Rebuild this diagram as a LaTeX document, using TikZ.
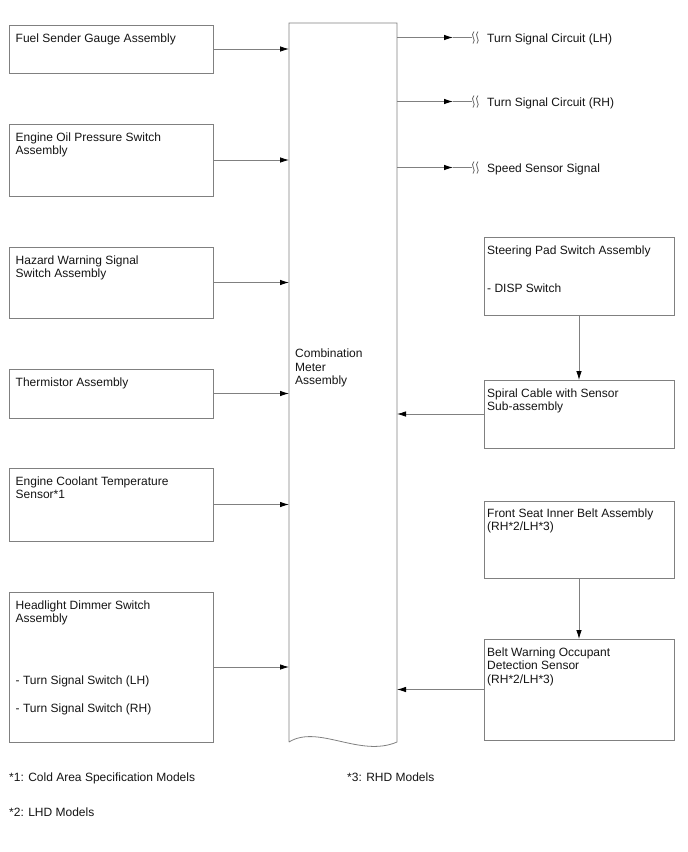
\documentclass[tikz,border=0pt]{standalone}
\usepackage{fontspec}
\setmainfont{Liberation Sans}
\usetikzlibrary{arrows.meta}
\definecolor{linegray}{RGB}{128,128,128}
\definecolor{textblack}{RGB}{20,20,20}
\begin{document}
\begin{tikzpicture}[x=1pt,y=-1pt,
  line/.style={draw=linegray, line width=0.8pt},
  box/.style={line, rectangle, inner sep=0pt, outer sep=0pt, anchor=north west, minimum width=#1},
  box/.default=204pt,
  arr/.style={line, -{Latex[length=9pt,width=5.5pt,black]}},
  txt/.style={anchor=north west, inner sep=0pt, align=left, font=\fontsize{12}{13.5}\selectfont, text=textblack},
  brk/.pic={
    \draw[draw=linegray!80!black, line width=0.8pt] (2,-6) .. controls (-2.5,-2) and (5,2) .. (1,6);
    \draw[draw=linegray!80!black, line width=0.8pt] (6,-6) .. controls (1.5,-2) and (9,2) .. (5,6);
  }]
\useasboundingbox (0,0) rectangle (688,852);

% central block
\node[draw=none, rectangle, inner sep=0pt, outer sep=0pt, anchor=north west,
      minimum width=108pt, minimum height=719pt] (cm) at (289,23) {};
\draw[line] (cm.south west) -- (cm.north west) -- (cm.north east) -- (cm.south east)
  .. controls (360,758) and (318,724) .. (cm.south west);
\node[txt] (cmT) at (295,348) {\strut Combination\\Meter\\Assembly};

% left boxes
\node[box, minimum height=48pt]  (fuel)  at (9,25)  {};
\node[box, minimum height=72pt]  (oil)   at (9,124) {};
\node[box, minimum height=71pt]  (haz)   at (9,247) {};
\node[box, minimum height=49pt]  (therm) at (9,369) {};
\node[box, minimum height=73pt]  (cool)  at (9,468) {};
\node[box, minimum height=150pt] (head)  at (9,592) {};

\node[txt] (fuelT)  at (15.5,32.5)  {\strut Fuel Sender Gauge Assembly};
\node[txt] (oilT)   at (15.5,131.5) {\strut Engine Oil Pressure Switch\\Assembly};
\node[txt] (hazT)   at (15.5,254.5) {\strut Hazard Warning Signal\\Switch Assembly};
\node[txt] (thermT) at (15.5,376.5) {\strut Thermistor Assembly};
\node[txt] (coolT)  at (15.5,475.5) {\strut Engine Coolant Temperature\\Sensor*1};
\node[txt] (headT)  at (15.5,599.5) {\strut Headlight Dimmer Switch\\Assembly\\[48pt]- Turn Signal Switch (LH)\\[14.5pt]- Turn Signal Switch (RH)};

\foreach \b in {fuel,oil,haz,therm,cool,head}
  \draw[arr] (\b.east) -- (\b.east -| cm.west);

% right boxes
\node[box=190pt, minimum height=78pt]  (steer)  at (484,237) {};
\node[box=190pt, minimum height=68pt]  (spiral) at (484,380) {};
\node[box=190pt, minimum height=77pt]  (front)  at (484,501) {};
\node[box=190pt, minimum height=101pt] (belt)   at (484,639) {};

\node[txt] (steerT)  at (487,244.5) {\strut Steering Pad Switch Assembly\\[24.5pt]- DISP Switch};
\node[txt] (spiralT) at (487,387.5) {\strut Spiral Cable with Sensor\\Sub-assembly};
\node[txt] (frontT)  at (487,507.5) {\strut Front Seat Inner Belt Assembly\\(RH*2/LH*3)};
\node[txt] (beltT)   at (487,646.5) {\strut Belt Warning Occupant\\Detection Sensor\\(RH*2/LH*3)};

\draw[arr] (steer.south) -- (spiral.north);
\draw[arr] (front.south) -- (belt.north);
\draw[arr] (spiral.west) -- (spiral.west -| cm.east);
\draw[arr] (belt.west) -- (belt.west -| cm.east);

% outputs
\coordinate (o1) at (472,37.5);
\coordinate (o2) at (472,101.5);
\coordinate (o3) at (472,167.5);
\coordinate (m1) at (453,37.5);
\coordinate (m2) at (453,101.5);
\coordinate (m3) at (453,167.5);
\foreach \i in {1,2,3}{
  \draw[arr] (o\i -| cm.east) -- (m\i);
  \draw[line] (m\i) -- (o\i);
  \pic at (o\i) {brk};
}
\node[txt, anchor=base west] (out1) at (487,42) {Turn Signal Circuit (LH)};
\node[txt, anchor=base west] (out2) at (487,106) {Turn Signal Circuit (RH)};
\node[txt, anchor=base west] (out3) at (487,172) {Speed Sensor Signal};

% footnotes
\node[txt, anchor=base west] (n1) at (9,781.5) {*1: Cold Area Specification Models};
\node[txt, anchor=base west] (n3) at (347,781.5) {*3: RHD Models};
\node[txt, anchor=base west] (n2) at (9,816) {*2: LHD Models};
\end{tikzpicture}
\end{document}
